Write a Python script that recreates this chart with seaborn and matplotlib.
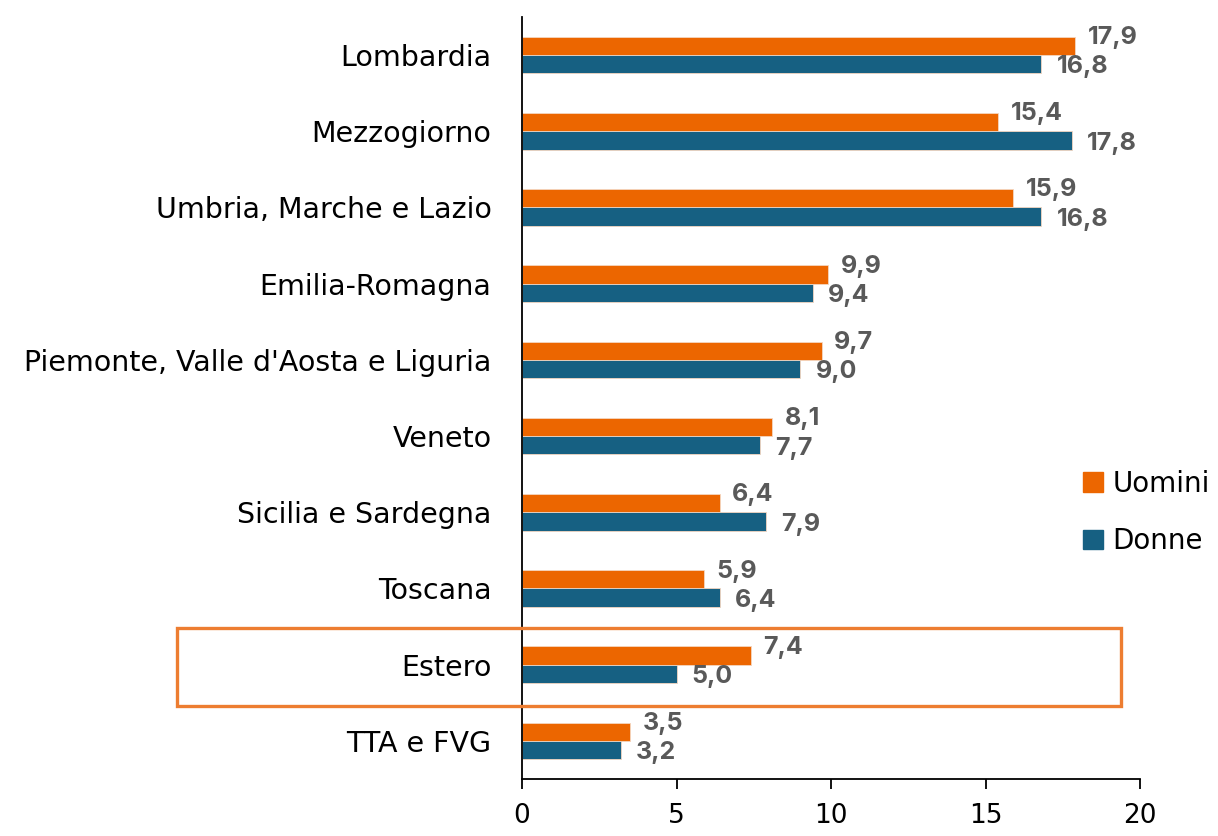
import pandas as pd
import matplotlib
matplotlib.use("Agg")
import matplotlib.pyplot as plt
import matplotlib.patches as mpatches
import seaborn as sns

# dati
regioni = ["Lombardia", "Mezzogiorno", "Umbria, Marche e Lazio", "Emilia-Romagna",
           "Piemonte, Valle d'Aosta e Liguria", "Veneto", "Sicilia e Sardegna",
           "Toscana", "Estero", "TTA e FVG"]
uomini = [17.9, 15.4, 15.9, 9.9, 9.7, 8.1, 6.4, 5.9, 7.4, 3.5]
donne = [16.8, 17.8, 16.8, 9.4, 9.0, 7.7, 7.9, 6.4, 5.0, 3.2]
serie = ["Uomini", "Donne"]

df = pd.DataFrame({"regione": regioni * 2,
                   "valore": uomini + donne,
                   "genere": [serie[0]] * len(regioni) + [serie[1]] * len(regioni)})

sns.set_style("white")
plt.rcParams['font.family'] = ['DejaVu Sans']
plt.rcParams['text.color'] = 'black'
plt.rcParams['xtick.color'] = 'black'
plt.rcParams['ytick.color'] = 'black'

colori = {"Uomini": "#EC6600", "Donne": "#166082"}

fig = plt.figure(figsize=(12.18, 8.36), dpi=100)
ax = fig.add_axes([0.4286, 0.0682, 0.5074, 0.9115])

sns.barplot(data=df, x="valore", y="regione", hue="genere", order=regioni,
            hue_order=serie, palette=colori, saturation=1, orient="h",
            width=0.48, gap=0, edgecolor="#f4d6c0", linewidth=0.6,
            legend=False, ax=ax)

ax.set_xlim(0, 20)
ax.set_ylim(len(regioni) - 0.5, -0.5)
ax.set_xticks([0, 5, 10, 15, 20])
ax.set_xlabel("")
ax.set_ylabel("")
for s in ["top", "right"]:
    ax.spines[s].set_visible(False)
for s in ["left", "bottom"]:
    ax.spines[s].set_color("black")
    ax.spines[s].set_linewidth(1.3)
ax.tick_params(axis="x", direction="out", length=7, width=1.3, color="black",
               labelcolor="black", labelsize=19, pad=10, bottom=True)
ax.tick_params(axis="y", length=0, labelsize=20.5, pad=22, labelcolor="black")

# etichette valori
for i, cont in enumerate(ax.containers):
    dy = -6 if i == 0 else 2
    dx = 9 if i == 0 else 11
    for p in cont.patches:
        w = p.get_width()
        yc = p.get_y() + p.get_height() / 2
        ax.annotate(f"{w:.1f}".replace(".", ","), (w, yc),
                    xytext=(dx, -dy), textcoords="offset points",
                    ha="left", va="center", fontsize=18, fontweight="bold",
                    color="#595959", family=["Inter", "DejaVu Sans"])

# legenda
maniglie = [mpatches.Patch(color=colori[s], label=s) for s in serie]
fig.legend(handles=maniglie, loc="center left", bbox_to_anchor=(0.869, 0.387),
           frameon=False, fontsize=20, handlelength=0.7, handleheight=0.7,
           handletextpad=0.35, labelspacing=1.05)

# riquadro Estero
fig.patches.append(mpatches.Rectangle((177 / 1218, 1 - 706 / 836), (1121 - 177) / 1218,
                                      78 / 836, transform=fig.transFigure,
                                      fill=False, edgecolor="#ED7D31", linewidth=2.4))

fig.savefig("out.png", dpi=100)
